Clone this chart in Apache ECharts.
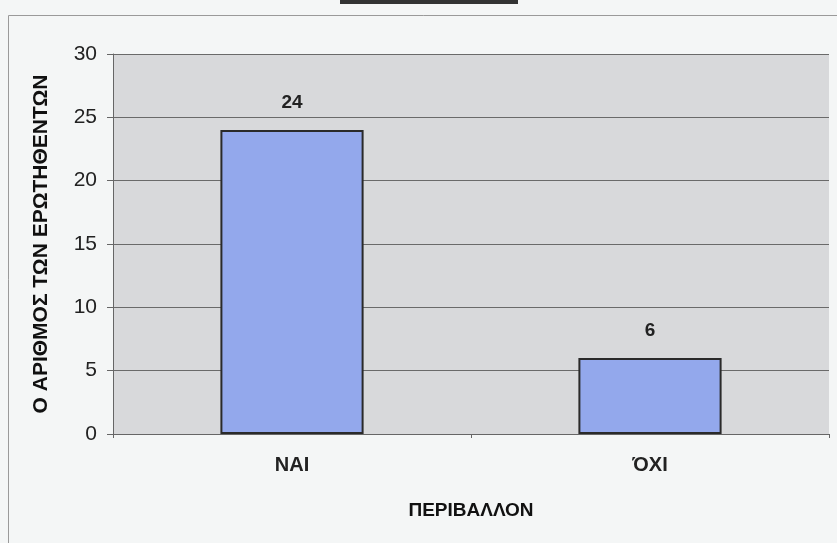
<!DOCTYPE html>
<html><head><meta charset="utf-8">
<script src="https://cdn.jsdelivr.net/npm/echarts@6/dist/echarts.min.js"></script>
<style>html,body{margin:0;padding:0;background:#f4f6f6}#c{width:837px;height:543px}</style>
</head><body><div id="c"></div>
<script>
const categories = ['ΝΑΙ', 'ΌΧΙ'];
const values = [24, 6];
const yTitle = 'Ο ΑΡΙΘΜΟΣ ΤΩΝ ΕΡΩΤΗΘΕΝΤΩΝ';
const xTitle = 'ΠΕΡΙΒΑΛΛΟΝ';

const chart = echarts.init(document.getElementById('c'));
chart.setOption({
  backgroundColor: '#f4f6f6',
  animation: false,
  textStyle: { fontFamily: 'Liberation Sans, Arial, sans-serif' },
  graphic: [
    { type: 'rect', shape: { x: 8.5, y: 15.5, width: 840, height: 540 }, style: { fill: 'none', stroke: '#9a9a9a', lineWidth: 1 }, z: -1 },
    { type: 'rect', shape: { x: 340, y: 0, width: 178, height: 4 }, style: { fill: '#333' }, z: -1 }
  ],
  grid: { left: 113, right: 8, top: 54, bottom: 109, show: true, backgroundColor: '#d8d9db', borderColor: '#d8d9db', borderWidth: 0 },
  xAxis: {
    type: 'category', data: categories,
    name: xTitle, nameLocation: 'middle', nameGap: 67,
    nameTextStyle: { fontWeight: 'bold', fontSize: 19, color: '#111' },
    axisLine: { lineStyle: { color: '#666', width: 1 } },
    axisTick: { show: true, length: 4, lineStyle: { color: '#666' } },
    axisLabel: { fontWeight: 'bold', fontSize: 20, color: '#222', margin: 21 }
  },
  yAxis: {
    type: 'value', min: 0, max: 30, interval: 5,
    name: yTitle, nameLocation: 'middle', nameGap: 61, nameRotate: 90,
    nameTextStyle: { fontWeight: 'bold', fontSize: 21, color: '#111' },
    axisLine: { show: true, lineStyle: { color: '#666', width: 1 } },
    axisTick: { show: true, length: 6, lineStyle: { color: '#666' } },
    axisLabel: { fontSize: 21, color: '#222', margin: 16 },
    splitLine: { lineStyle: { color: '#6a6a6a', width: 1 } }
  },
  series: [{
    type: 'bar', data: values, barWidth: '40%',
    itemStyle: { color: '#93a8ec', borderColor: '#2a2a2a', borderWidth: 2 },
    label: { show: true, position: 'top', distance: 18, fontSize: 19, fontWeight: 'bold', color: '#222' }
  }]
});
</script></body></html>
